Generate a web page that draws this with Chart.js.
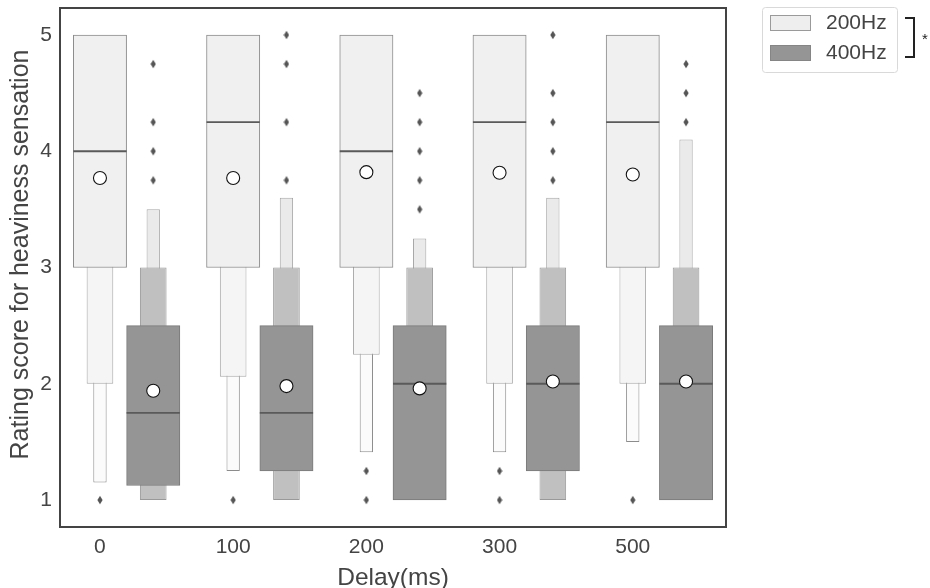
<!DOCTYPE html>
<html><head><meta charset="utf-8">
<script src="https://cdn.jsdelivr.net/npm/chart.js@4.4.1/dist/chart.umd.min.js"></script>
<style>html,body{margin:0;padding:0;background:#fff;}#wrap{width:930px;height:588px;position:relative;}</style>
</head><body><div id="wrap"><canvas id="c" width="930" height="588"></canvas></div>
<script>
// ---- data ----
const delays = ['0', '100', '200', '300', '500'];
const yTicks = [1, 2, 3, 4, 5];
const xTitle = 'Delay(ms)';
const yTitle = 'Rating score for heaviness sensation';

// 200Hz letter values
const hz200Q1 = [3, 3, 3, 3, 3];
const hz200Q3 = [5, 5, 5, 5, 5];
const hz200E1lo = [2, 2.06, 2.25, 2, 2];
const hz200E1hi = [5, 5, 5, 5, 5];
const hz200E2lo = [1.15, 1.25, 1.41, 1.41, 1.5];
const hz200E2hi = [5, 5, 5, 5, 5];
const hz200Median = [4, 4.25, 4, 4.25, 4.25];
const hz200Mean = [3.77, 3.77, 3.82, 3.815, 3.8];
const hz200Outliers = [[1], [1], [1.25, 1], [1.25, 1], [1]];

// 400Hz letter values
const hz400Q1 = [1.125, 1.25, 1, 1.25, 1];
const hz400Q3 = [2.5, 2.5, 2.5, 2.5, 2.5];
const hz400E1lo = [1, 1, 1, 1, 1];
const hz400E1hi = [3, 3, 3, 3, 3];
const hz400E2lo = [1, 1, 1, 1, 1];
const hz400E2hi = [3.5, 3.6, 3.25, 3.6, 4.1];
const hz400Median = [1.75, 1.75, 2, 2, 2];
const hz400Mean = [1.94, 1.98, 1.96, 2.02, 2.02];
const hz400Outliers = [[4.75, 4.25, 4, 3.75], [5, 4.75, 4.25, 3.75], [4.5, 4.25, 4, 3.75, 3.5], [5, 4.5, 4.25, 4, 3.75], [4.75, 4.5, 4.25]];

// ---- styling ----
const FONT = "'Liberation Sans', Arial, sans-serif";
const TXT = '#444444';
const OFF200 = -0.2, OFF400 = 0.2, HALFW = 0.2;
const style200 = [
  {fill: '#eff0ef', edge: '#8c8c8c'},
  {fill: '#f4f5f4', edge: '#a6a6a6'},
  {fill: '#fbfbfb', edge: '#8c8c8c'}
];
const style400 = [
  {fill: '#959595', edge: '#7a7a7a'},
  {fill: '#c0c0c0', edge: '#999999'},
  {fill: '#e9eae9', edge: '#a6a6a6'}
];
const levelPct = [1, 0.5, 0.25];

function boxDataset(lo, hi, off, level, st) {
  return {
    type: 'bar',
    data: delays.map((d, i) => ({x: i + off, y: [lo[i], hi[i]]})),
    backgroundColor: st[level].fill,
    borderColor: st[level].edge,
    borderWidth: 1,
    borderSkipped: false,
    grouped: false,
    categoryPercentage: 1,
    barPercentage: levelPct[level],
    order: 8 + level
  };
}
function pointsDataset(vals, off) {
  return delays.map((d, i) => ({x: i + off, y: vals[i]}));
}
function outlierPoints(list, off) {
  const out = [];
  list.forEach((arr, i) => arr.forEach(v => out.push({x: i + off, y: v})));
  return out;
}

// thin diamond marker
const dia = document.createElement('canvas');
dia.width = 6; dia.height = 10;
(function () {
  const c = dia.getContext('2d');
  c.fillStyle = '#555555';
  c.beginPath(); c.moveTo(3, 0.8); c.lineTo(5.6, 5); c.lineTo(3, 9.2); c.lineTo(0.4, 5); c.closePath(); c.fill();
})();

const halfBoxPx = ctx => {
  const s = ctx.chart.scales.x;
  return Math.abs(s.getPixelForValue(HALFW) - s.getPixelForValue(0));
};

const datasets = [
  boxDataset(hz200E2lo, hz200E2hi, OFF200, 2, style200),
  boxDataset(hz200E1lo, hz200E1hi, OFF200, 1, style200),
  boxDataset(hz200Q1, hz200Q3, OFF200, 0, style200),
  boxDataset(hz400E2lo, hz400E2hi, OFF400, 2, style400),
  boxDataset(hz400E1lo, hz400E1hi, OFF400, 1, style400),
  boxDataset(hz400Q1, hz400Q3, OFF400, 0, style400),
  {
    type: 'scatter',
    data: pointsDataset(hz200Median, OFF200).concat(pointsDataset(hz400Median, OFF400)),
    pointStyle: 'line', pointRadius: halfBoxPx, pointBorderColor: '#5a5a5a', pointBorderWidth: 1.8,
    order: 3
  },
  {
    type: 'scatter',
    data: outlierPoints(hz200Outliers, OFF200).concat(outlierPoints(hz400Outliers, OFF400)),
    pointStyle: dia, order: 2
  },
  {
    type: 'scatter',
    data: pointsDataset(hz200Mean, OFF200).concat(pointsDataset(hz400Mean, OFF400)),
    pointStyle: 'circle', pointRadius: 6.5, pointBackgroundColor: '#ffffff', pointBorderColor: '#111111', pointBorderWidth: 1.1,
    order: 1
  }
];

const framePlugin = {
  id: 'frame',
  afterDraw(chart) {
    const {ctx, chartArea: a} = chart;
    ctx.save();
    ctx.strokeStyle = '#444444';
    ctx.lineWidth = 2;
    ctx.strokeRect(a.left, a.top, a.right - a.left, a.bottom - a.top);
    // y-axis title (sits slightly above the axis centre in the reference)
    ctx.translate(21, (a.top + a.bottom) / 2 - 13);
    ctx.rotate(-Math.PI / 2);
    ctx.fillStyle = TXT;
    ctx.font = '25px ' + FONT;
    ctx.textAlign = 'center';
    ctx.textBaseline = 'middle';
    ctx.fillText(yTitle, 0, 0);
    ctx.restore();
  }
};

const legendPlugin = {
  id: 'hzLegend',
  afterDraw(chart) {
    const ctx = chart.ctx;
    ctx.save();
    const bx = 762.5, by = 7.5, bw = 135, bh = 65, r = 3;
    ctx.beginPath();
    ctx.moveTo(bx + r, by); ctx.lineTo(bx + bw - r, by); ctx.quadraticCurveTo(bx + bw, by, bx + bw, by + r);
    ctx.lineTo(bx + bw, by + bh - r); ctx.quadraticCurveTo(bx + bw, by + bh, bx + bw - r, by + bh);
    ctx.lineTo(bx + r, by + bh); ctx.quadraticCurveTo(bx, by + bh, bx, by + bh - r);
    ctx.lineTo(bx, by + r); ctx.quadraticCurveTo(bx, by, bx + r, by);
    ctx.closePath();
    ctx.fillStyle = '#ffffff'; ctx.fill();
    ctx.strokeStyle = '#d9d9d9'; ctx.lineWidth = 1; ctx.stroke();
    const items = [
      {label: '200Hz', fill: '#eeeeee', edge: '#9a9a9a', y: 15},
      {label: '400Hz', fill: '#959595', edge: '#858585', y: 45}
    ];
    items.forEach(it => {
      ctx.fillStyle = it.fill; ctx.fillRect(770, it.y, 41, 16);
      ctx.strokeStyle = it.edge; ctx.lineWidth = 1; ctx.strokeRect(770.5, it.y + 0.5, 40, 15);
      ctx.fillStyle = TXT; ctx.font = '21px ' + FONT; ctx.textBaseline = 'middle'; ctx.textAlign = 'left';
      ctx.fillText(it.label, 826, it.y + 8);
    });
    ctx.strokeStyle = '#222222'; ctx.lineWidth = 2;
    ctx.beginPath(); ctx.moveTo(905, 18); ctx.lineTo(914, 18); ctx.lineTo(914, 57); ctx.lineTo(905, 57); ctx.stroke();
    ctx.fillStyle = '#222222'; ctx.font = '15px ' + FONT; ctx.textAlign = 'left';
    ctx.fillText('*', 922, 40);
    ctx.restore();
  }
};

new Chart(document.getElementById('c'), {
  type: 'bar',
  data: {datasets},
  options: {
    responsive: false,
    devicePixelRatio: 1,
    animation: false,
    events: [],
    layout: {padding: {top: 8, right: 204, left: 0, bottom: 0}},
    plugins: {legend: {display: false}, tooltip: {enabled: false}},
    scales: {
      x: {
        type: 'linear', min: -0.5, max: 4.5, offset: false,
        afterBuildTicks: s => { s.ticks = delays.map((d, i) => ({value: i + OFF200})); },
        afterFit: s => { s.height = 61; s.paddingLeft = 0; s.paddingRight = 0; },
        ticks: {callback: (v, i) => delays[i], font: {size: 21, family: FONT}, color: TXT, padding: 8, autoSkip: false, maxRotation: 0},
        grid: {display: false, drawTicks: false},
        border: {display: false},
        title: {display: true, text: xTitle, font: {size: 24.5, family: FONT, lineHeight: 1}, color: TXT, padding: {top: 0, bottom: -2}}
      },
      y: {
        type: 'linear', min: 0.768, max: 5.232,
        afterBuildTicks: s => { s.ticks = yTicks.map(v => ({value: v})); },
        afterFit: s => { s.width = 60; s.paddingTop = 0; s.paddingBottom = 0; },
        ticks: {callback: v => String(v), font: {size: 21, family: FONT}, color: TXT, padding: 8},
        grid: {display: false, drawTicks: false},
        border: {display: false},
        title: {display: false}
      }
    }
  },
  plugins: [framePlugin, legendPlugin]
});
</script></body></html>
